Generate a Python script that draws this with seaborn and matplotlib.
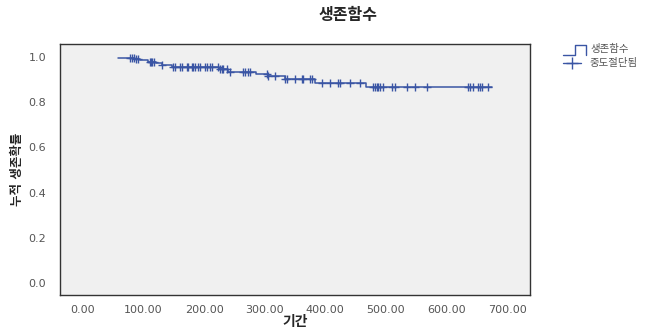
import numpy as np
import pandas as pd
import matplotlib
matplotlib.use('Agg')
import matplotlib.pyplot as plt
import seaborn as sns
from matplotlib.lines import Line2D

# step curve (days, cumulative survival)
event_days = [58, 85, 94, 108, 120, 130, 147, 224, 240, 285, 305, 333, 383, 467]
surv_values = [0.995, 0.990, 0.984, 0.977, 0.971, 0.964, 0.955, 0.947, 0.933, 0.923, 0.914, 0.902, 0.884, 0.865]
last_day = 675

# censored observations (the '+' marks)
censor_days = [78, 81, 84, 87, 91, 110, 112, 114, 118, 130, 148, 152, 160, 163, 172, 173,
               180, 182, 185, 190, 193, 201, 205, 210, 213, 223, 226, 229, 231, 238, 243,
               264, 267, 272, 276, 304, 305, 317, 333, 337, 350, 361, 363, 375, 378, 394,
               408, 421, 424, 441, 457, 479, 482, 485, 487, 490, 495, 510, 515, 535, 548,
               568, 635, 639, 644, 652, 655, 658, 668]

x_ticks = [0, 100, 200, 300, 400, 500, 600, 700]
y_ticks = [0.0, 0.2, 0.4, 0.6, 0.8, 1.0]

line_color = '#3a55a4'

sns.set_style('white')
plt.rcParams['font.family'] = ['DejaVu Sans', 'Noto Sans CJK KR']

curve = pd.DataFrame({'day': event_days + [last_day],
                      'surv': surv_values + [surv_values[-1]]})
idx = np.searchsorted(event_days, censor_days, side='right') - 1
censored = pd.DataFrame({'day': censor_days,
                         'surv': np.array(surv_values)[idx]})

fig = plt.figure(figsize=(6.68, 3.29), dpi=100)
ax = fig.add_axes([0.0898, 0.1033, 0.7036, 0.7627])
ax.set_facecolor('#f0f0f0')

sns.lineplot(data=curve, x='day', y='surv', drawstyle='steps-post', estimator=None,
             color=line_color, linewidth=1.1, ax=ax)
sns.scatterplot(data=censored, x='day', y='surv', marker='+', s=28, color=line_color,
                linewidth=1.0, ax=ax, zorder=3)

ax.set_xlim(-38, 738)
ax.set_ylim(-0.053, 1.056)
ax.set_xticks(x_ticks)
ax.set_xticklabels([f'{t:.2f}' for t in x_ticks])
ax.set_yticks(y_ticks)
ax.set_yticklabels([f'{t:.1f}' for t in y_ticks])
ax.tick_params(axis='x', length=4, width=1, pad=3, labelsize=8, labelcolor='#555555', color='#333333')
ax.tick_params(axis='y', length=7, width=1, pad=3, labelsize=8, labelcolor='#555555', color='#333333')
for s in ax.spines.values():
    s.set_color('#333333')
    s.set_linewidth(1.0)

ax.set_xlabel('기간', fontsize=10, fontweight='bold', labelpad=0)
ax.set_ylabel('누적 생존확률', fontsize=9, fontweight='bold', labelpad=3)
fig.text(348 / 668, 1 - 15 / 329, '생존함수', ha='center', va='center',
         fontsize=11.5, fontweight='bold')

# legend drawn by hand: step glyph and cross
W, H = 668, 329
def fx(px): return px / W
def fy(py): return 1 - py / H
fig.add_artist(Line2D([fx(563), fx(575), fx(575), fx(586), fx(586)],
                      [fy(55), fy(55), fy(45), fy(45), fy(55)],
                      color=line_color, linewidth=1.0))
fig.add_artist(Line2D([fx(572)], [fy(63)], marker='+', markersize=9, mew=1.0,
                      color=line_color, linestyle='none'))
fig.add_artist(Line2D([fx(563), fx(581)], [fy(63), fy(63)], color=line_color, linewidth=1.0))
fig.text(fx(590), fy(49), '생존함수', fontsize=7.5, color='#555555', va='center')
fig.text(fx(590), fy(63), '중도절단됨', fontsize=7.5, color='#555555', va='center')

fig.savefig('out.png', dpi=100)
